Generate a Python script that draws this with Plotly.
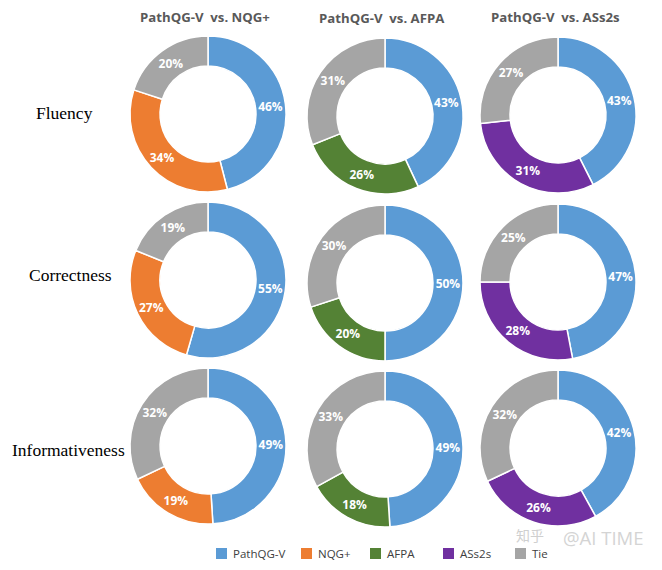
import plotly.graph_objects as go

# the page has an 8px body margin, so the figure sits 8px in from the corner
OFFSET = 8
W = 662 - 2 * OFFSET
H = 570 - 2 * OFFSET

rows = ['Fluency', 'Correctness', 'Informativeness']
titles = ['PathQG-V  vs. NQG+', 'PathQG-V  vs. AFPA', 'PathQG-V  vs. ASs2s']
opponents = ['NQG+', 'AFPA', 'ASs2s']
pathqg = [[46, 43, 43], [55, 50, 47], [49, 49, 42]]
other = [[34, 26, 31], [27, 20, 28], [19, 18, 26]]
tie = [[20, 31, 27], [19, 30, 25], [32, 33, 32]]
legend_names = ['PathQG-V', 'NQG+', 'AFPA', 'ASs2s', 'Tie']

colors = {'PathQG-V': '#5B9BD5', 'NQG+': '#ED7D31', 'AFPA': '#548235',
          'ASs2s': '#7030A0', 'Tie': '#A5A5A5'}

# pixel centres of the donuts
centers = [[(208, 114), (385, 116), (558, 115)],
           [(208, 280), (385, 283), (558, 282)],
           [(208, 446), (385, 449), (558, 448)]]
radius = 78


def px(x):
    return (x - OFFSET) / W


def py(y):
    return 1 - (y - OFFSET) / H


fig = go.Figure()

for r in range(3):
    for c in range(3):
        cx, cy = centers[r][c]
        labels = ['PathQG-V', opponents[c], 'Tie']
        values = [pathqg[r][c], other[r][c], tie[r][c]]
        fig.add_trace(go.Pie(
            labels=labels, values=values,
            text=['%d%%' % v for v in values],
            textinfo='text', textposition='inside',
            insidetextorientation='horizontal',
            textfont=dict(family='Open Sans', size=12, color='white', weight='bold'),
            marker=dict(colors=[colors[l] for l in labels],
                        line=dict(color='white', width=1.5)),
            hole=0.615, sort=False, direction='clockwise', rotation=0,
            showlegend=False,
            domain=dict(x=[px(cx - radius), px(cx + radius)],
                        y=[py(cy + radius), py(cy - radius)])))

annotations = []
shapes = []


def add_text(x, y, text, family, size, color, weight='normal', anchor='center'):
    annotations.append(dict(x=px(x), y=py(y), xref='paper', yref='paper', text=text,
                            showarrow=False, xanchor=anchor, yanchor='middle',
                            font=dict(family=family, size=size, color=color, weight=weight)))


for x, y, t in zip([205, 382, 555], [17, 18, 17], titles):
    add_text(x, y, t, 'Open Sans', 13.2, '#595959', 'bold')

for x, y, t in zip([64, 70, 68], [113, 275, 450], rows):
    add_text(x, y, t, 'Liberation Serif', 17.5, 'black')

# legend is hand placed since the spacing is uneven
legend_x = [216, 301, 370, 443, 515]
for x, name in zip(legend_x, legend_names):
    shapes.append(dict(type='rect', xref='paper', yref='paper',
                       x0=px(x), x1=px(x + 11), y0=py(559), y1=py(548),
                       fillcolor=colors[name], line_width=0))
    add_text(x + 15, 553.5, name, 'Open Sans', 11.5, '#404040', anchor='left')

add_text(514, 535, '知乎', 'Noto Sans CJK SC', 14, '#cfcfcf', anchor='left')
add_text(561, 537, '@AI TIME', 'Open Sans', 18.5, '#d4d4d4', anchor='left')

fig.update_layout(width=W, height=H, margin=dict(l=0, r=0, t=0, b=0),
                  paper_bgcolor='white', plot_bgcolor='white',
                  annotations=annotations, shapes=shapes)

fig.write_html("out.html")
